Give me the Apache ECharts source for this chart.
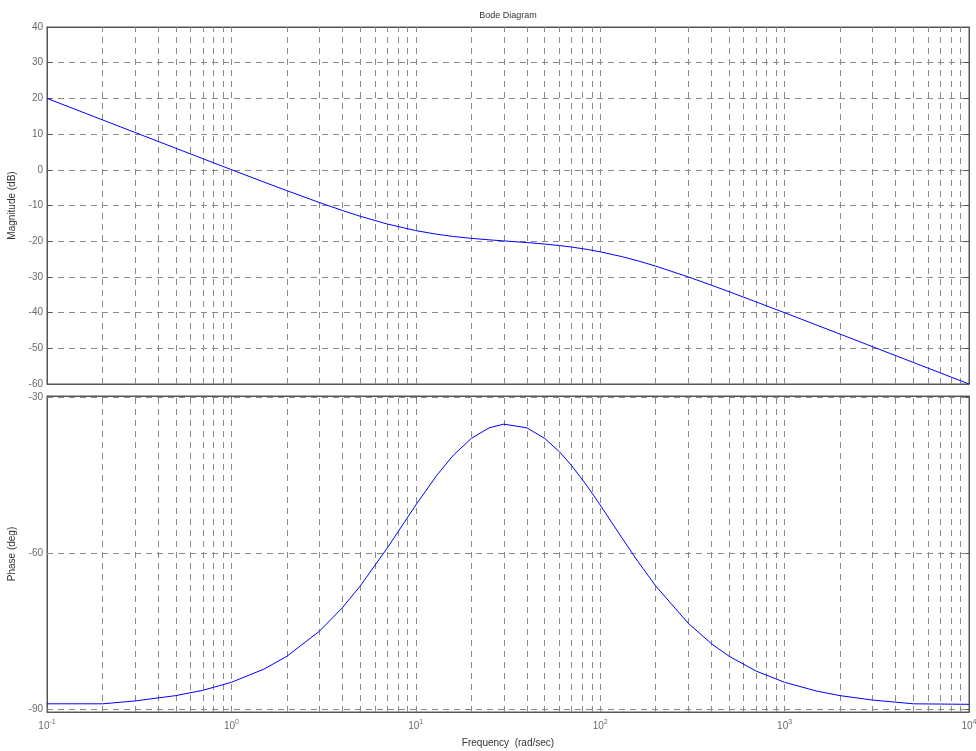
<!DOCTYPE html>
<html>
<head>
<meta charset="utf-8">
<script src="https://cdn.jsdelivr.net/npm/echarts@6/dist/echarts.min.js"></script>
<style>
html, body { margin: 0; padding: 0; background: #fff; }
#main { width: 976px; height: 751px; }
</style>
</head>
<body>
<div id="main"></div>
<script>
// frequency (rad/sec) and values
var freq = [0.1, 0.2, 0.3, 0.5, 0.7, 1, 1.5, 2, 3, 4, 5, 7, 10, 13, 16, 20, 25, 30, 40, 50, 60, 70, 85,
            100, 130, 160, 200, 300, 400, 500, 700, 1000, 1500, 2000, 3000, 5000, 10000];
var magDb = [20.0, 13.98, 10.46, 6.03, 3.12, 0.04, -3.43, -5.85, -9.17, -11.4, -13.02, -15.19, -17.03,
             -18.05, -18.68, -19.2, -19.62, -19.92, -20.38, -20.8, -21.22, -21.64, -22.3,
             -22.97, -24.28, -25.49, -26.98, -29.99, -32.3, -34.15, -36.99, -40.04, -43.54, -46.03, -49.55, -53.98, -60.0];
var phaseDeg = [-89.0, -89.0, -88.45, -87.42, -86.4, -84.86, -82.33, -79.84, -75.02, -70.49, -66.29, -59.01, -50.71,
                -44.98, -41.1, -37.88, -35.84, -35.13, -35.84, -37.88, -40.42, -43.12, -47.07,
                -50.71, -56.83, -61.57, -66.29, -73.48, -77.39, -79.84, -82.69, -84.86, -86.57, -87.43, -88.28, -89.0, -89.1];

var phaseTicks = [-90, -60, -30];
// vertical grid lines (decades and 2..9 in each decade)
var gridFreqs = [0.2, 0.3, 0.4, 0.5, 0.6, 0.7, 0.8, 0.9,
                 1, 2, 3, 4, 5, 6, 7, 8, 9,
                 10, 20, 30, 40, 50, 60, 70, 80, 90,
                 100, 200, 300, 400, 500, 600, 700, 800, 900,
                 1000, 2000, 3000, 4000, 5000, 6000, 7000, 8000, 9000];

var FONT = "'Liberation Sans', Arial, sans-serif";
var gridColor = '#8a8a8a';
var boxColor = '#555555';
var labelColor = '#6a6a6a';
var dash = [6, 5];

var magData = [], phaseData = [];
for (var i = 0; i < freq.length; i++) {
    magData.push([freq[i], magDb[i]]);
    phaseData.push([freq[i], phaseDeg[i]]);
}

var vLines = gridFreqs.map(function (f) { return { xAxis: f }; });
var hLines = phaseTicks.map(function (v) { return { yAxis: v }; });

function xAxisCfg(idx, showLabel, pos) {
    return {
        type: 'log',
        gridIndex: idx,
        position: pos,
        logBase: 10,
        min: 0.1,
        max: 10000,
        splitLine: { show: false },
        axisLine: { show: true, onZero: false, lineStyle: { color: boxColor } },
        axisTick: { show: true, inside: true, length: 5, lineStyle: { color: boxColor } },
        axisLabel: {
            show: showLabel,
            margin: 7,
            formatter: function (v) {
                var e = Math.round(Math.log(v) / Math.LN10);
                return '{b|10}{e|' + e + '}';
            },
            rich: {
                b: { fontSize: 10, fontFamily: FONT, color: labelColor, verticalAlign: 'bottom', padding: [6, 0, 0, 0], lineHeight: 12 },
                e: { fontSize: 7, fontFamily: FONT, color: labelColor, verticalAlign: 'top', lineHeight: 9 }
            }
        },
        name: showLabel ? 'Frequency  (rad/sec)' : '',
        nameLocation: 'middle',
        nameGap: 26,
        nameTextStyle: { fontSize: 10, fontFamily: FONT, color: '#333' }
    };
}

var myChart = echarts.init(document.getElementById('main'));
var option = {
    animation: false,
    backgroundColor: '#fff',
    textStyle: { fontFamily: FONT },
    title: {
        text: 'Bode Diagram',
        left: 503,
        top: 6,
        textAlign: 'center',
        textStyle: { fontSize: 9, fontWeight: 'normal', color: '#333', fontFamily: FONT }
    },
    grid: [
        { left: 47, top: 27, width: 922, height: 357, show: true, borderColor: boxColor, borderWidth: 1, outerBoundsMode: 'none', containLabel: false },
        { left: 47, top: 396, width: 922, height: 316, show: true, borderColor: boxColor, borderWidth: 1, outerBoundsMode: 'none', containLabel: false }
    ],
    xAxis: [
        xAxisCfg(0, false, 'bottom'),
        xAxisCfg(1, true, 'bottom'),
        xAxisCfg(0, false, 'top'),
        xAxisCfg(1, false, 'top')
    ],
    yAxis: [
        {
            type: 'value',
            gridIndex: 0,
            position: 'left',
            min: -60,
            max: 40,
            interval: 10,
            axisLine: { show: true, onZero: false, lineStyle: { color: boxColor } },
            axisTick: { show: true, inside: true, length: 5, lineStyle: { color: boxColor } },
            axisLabel: { margin: 4, fontSize: 10, color: labelColor, fontFamily: FONT },
            splitLine: { show: true, lineStyle: { color: gridColor, type: dash, width: 1 } },
            name: 'Magnitude (dB)',
            nameLocation: 'middle',
            nameGap: 26,
            nameTextStyle: { fontSize: 10, fontFamily: FONT, color: '#333' }
        },
        {
            type: 'value',
            gridIndex: 1,
            position: 'left',
            min: -90.58,
            max: -29.71,
            axisLine: { show: true, onZero: false, lineStyle: { color: boxColor } },
            axisTick: { show: true, inside: true, length: 5, customValues: phaseTicks, lineStyle: { color: boxColor } },
            axisLabel: { margin: 4, fontSize: 10, color: labelColor, fontFamily: FONT, customValues: phaseTicks },
            splitLine: { show: false },
            name: 'Phase (deg)',
            nameLocation: 'middle',
            nameGap: 26,
            nameTextStyle: { fontSize: 10, fontFamily: FONT, color: '#333' }
        },
        {
            type: 'value',
            gridIndex: 0,
            position: 'right',
            min: -60,
            max: 40,
            interval: 10,
            axisLine: { show: true, onZero: false, lineStyle: { color: boxColor } },
            axisTick: { show: true, inside: true, length: 5, lineStyle: { color: boxColor } },
            axisLabel: { show: false },
            splitLine: { show: false }
        },
        {
            type: 'value',
            gridIndex: 1,
            position: 'right',
            min: -90.58,
            max: -29.71,
            axisLine: { show: true, onZero: false, lineStyle: { color: boxColor } },
            axisTick: { show: true, inside: true, length: 5, customValues: phaseTicks, lineStyle: { color: boxColor } },
            axisLabel: { show: false, customValues: phaseTicks },
            splitLine: { show: false }
        }
    ],
    series: [
        {
            type: 'line',
            xAxisIndex: 0,
            yAxisIndex: 0,
            data: magData,
            showSymbol: false,
            lineStyle: { color: '#0000ff', width: 1 },
            silent: true,
            markLine: {
                silent: true,
                symbol: 'none',
                label: { show: false },
                lineStyle: { color: gridColor, type: dash, width: 1 },
                data: vLines
            },
            z: 5
        },
        {
            type: 'line',
            xAxisIndex: 1,
            yAxisIndex: 1,
            data: phaseData,
            showSymbol: false,
            lineStyle: { color: '#0000ff', width: 1 },
            silent: true,
            markLine: {
                silent: true,
                symbol: 'none',
                label: { show: false },
                lineStyle: { color: gridColor, type: dash, width: 1 },
                data: vLines.concat(hLines)
            },
            z: 5
        }
    ]
};
myChart.setOption(option);
</script>
</body>
</html>
